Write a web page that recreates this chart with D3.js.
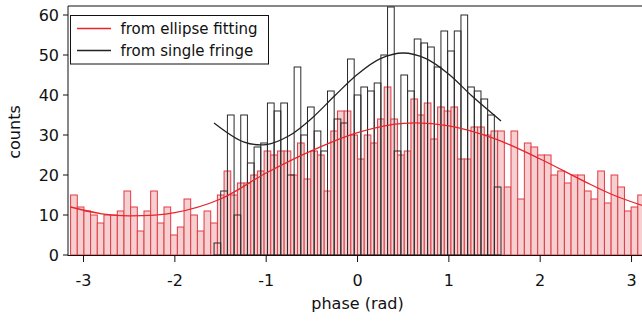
<!DOCTYPE html>
<html><head><meta charset="utf-8">
<script src="https://cdn.jsdelivr.net/npm/d3@7"></script>
<style>body{margin:0;background:#fff} svg{display:block} text{font-family:"DejaVu Sans",sans-serif;fill:#111}</style>
</head><body><svg id="c" width="642" height="322"></svg>
<script>
// histogram counts
const ellipseCounts = [15,12,11,10,8,10,10,11,16,12,6,11,16,8,12,5,7,14,10,6,11,8,15,21,15,18,18,20,21,26,25,26,26,20,28,19,26,25,16,31,36,36,30,24,30,28,34,42,34,25,26,39,35,38,29,37,36,37,24,24,32,32,30,31,31,17,31,14,28,27,25,25,20,21,18,20,20,16,14,21,13,20,17,11,12,15];
const fringeCounts = [3,16,35,10,35,23,27,28,38,36,38,20,47,30,37,31,26,41,34,33,49,40,42,41,43,50,62,26,45,41,54,53,52,47,56,51,56,60,42,41,39,35,17];
// fit curves
const ellipseFitX = [-3.1416,-2.8,-2.5,-2.0,-1.5,-1.0,-0.5,0,0.5,1.0,1.5,2.0,2.5,2.8,3.1416];
const ellipseFitY = [12.0,10.3,9.8,10.6,14.0,20.5,26.1,30.6,32.9,32.3,29.1,24.0,18.2,15.0,12.2];
const fringeFitX = [-1.5708,-1.25,-1.0,-0.75,-0.5,-0.25,0,0.25,0.5,0.75,1.0,1.25,1.5708];
const fringeFitY = [33.0,28.3,27.6,29.8,34.2,39.8,45.2,49.1,50.5,49.1,45.2,39.8,33.5];
const xTicks = [-3,-2,-1,0,1,2,3];
const yTicks = [0,10,20,30,40,50,60];
const legendLabels = ["from ellipse fitting","from single fringe"];
const xLabel = "phase (rad)";
const yLabel = "counts";

const svg = d3.select("#c");
const x = d3.scaleLinear().domain([-3.17, 3.2]).range([68, 649.8]);
const y = d3.scaleLinear().domain([0, 62.25]).range([255, 6]);

const redStroke = "#e23a45", redFill = "#f6d0d0", redLine = "#e8242c";

// red histogram: 86 bins over [-pi, pi]
const wR = 2*Math.PI/ellipseCounts.length;
svg.append("g").selectAll("rect").data(ellipseCounts).join("rect")
  .attr("x", (d,i)=>x(-Math.PI + i*wR))
  .attr("width", (d,i)=>x(-Math.PI+(i+1)*wR)-x(-Math.PI+i*wR))
  .attr("y", d=>y(d)).attr("height", d=>y(0)-y(d))
  .attr("fill", redFill).attr("stroke", redStroke).attr("stroke-width",1);

// black histogram: 43 bins over [-pi/2, pi/2]
const wB = Math.PI/fringeCounts.length;
svg.append("g").selectAll("rect").data(fringeCounts).join("rect")
  .attr("x", (d,i)=>x(-Math.PI/2 + i*wB))
  .attr("width", (d,i)=>x(-Math.PI/2+(i+1)*wB)-x(-Math.PI/2+i*wB))
  .attr("y", d=>y(d)).attr("height", d=>y(0)-y(d))
  .attr("fill", "none").attr("stroke", "#2a2a2a").attr("stroke-width",1);

const mk = d3.line().x(d=>x(d[0])).y(d=>y(d[1])).curve(d3.curveCatmullRom.alpha(0.5));
svg.append("path").attr("d", mk(d3.zip(ellipseFitX, ellipseFitY)))
  .attr("fill","none").attr("stroke", redLine).attr("stroke-width",1.3);
svg.append("path").attr("d", mk(d3.zip(fringeFitX, fringeFitY)))
  .attr("fill","none").attr("stroke", "#222").attr("stroke-width",1.3);

// axes
const ax = svg.append("g").attr("stroke","#111").attr("stroke-width",1);
ax.append("line").attr("x1",68).attr("x2",68).attr("y1",y(62.25)).attr("y2",256);
ax.append("line").attr("x1",68).attr("x2",642).attr("y1",y(62.25)).attr("y2",y(62.25));
ax.append("line").attr("x1",68).attr("x2",642).attr("y1",255.5).attr("y2",255.5);
ax.selectAll(".yt").data(yTicks).join("line").attr("class","yt")
  .attr("x1",63).attr("x2",68).attr("y1",d=>y(d)).attr("y2",d=>y(d));
ax.selectAll(".xt").data(xTicks).join("line").attr("class","xt")
  .attr("x1",d=>x(d)).attr("x2",d=>x(d)).attr("y1",256).attr("y2",262);

svg.selectAll(".yl").data(yTicks).join("text").attr("class","yl")
  .attr("x",59).attr("y",d=>y(d)+5.5).attr("text-anchor","end")
  .attr("font-size",16).text(d=>String(d));
svg.selectAll(".xl").data(xTicks).join("text").attr("class","xl")
  .attr("x",d=>x(d)).attr("y",286).attr("text-anchor","middle")
  .attr("font-size",16).text(d=>String(d));
svg.append("text").attr("x",357.5).attr("y",309).attr("text-anchor","middle")
  .attr("font-size",16).text(xLabel);
svg.append("text").attr("transform","translate(20,132) rotate(-90)")
  .attr("text-anchor","middle").attr("font-size",16).text(yLabel);

// legend
const lg = svg.append("g");
lg.append("rect").attr("x",70.5).attr("y",15.5).attr("width",198).attr("height",48.5)
  .attr("fill","#fff").attr("stroke","#111").attr("stroke-width",1);
const lcol = [redLine, "#222"];
legendLabels.forEach((t,k)=>{
  const yy = 28.5 + k*22;
  lg.append("line").attr("x1",77).attr("x2",111).attr("y1",yy).attr("y2",yy)
    .attr("stroke", lcol[k]).attr("stroke-width",1.3);
  lg.append("text").attr("x",120.5).attr("y",yy+5).attr("font-size",15).text(t);
});
</script></body></html>
